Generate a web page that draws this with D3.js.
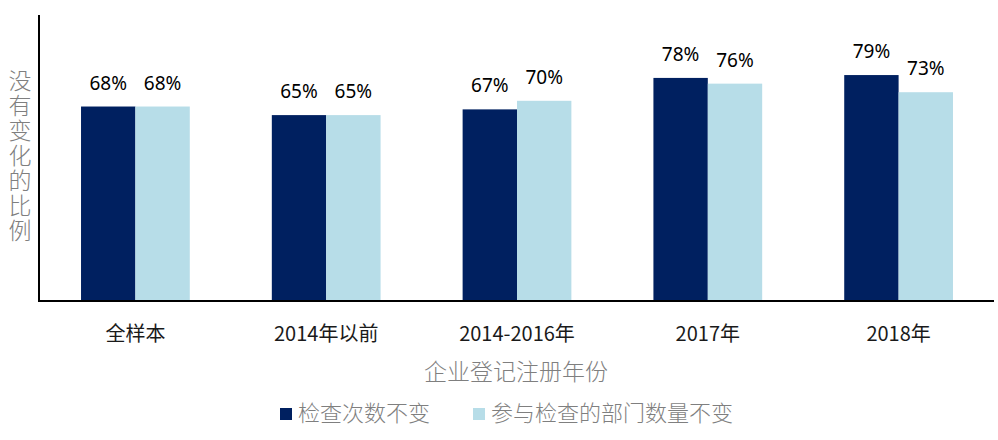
<!DOCTYPE html>
<html>
<head>
<meta charset="utf-8">
<script src="https://cdn.jsdelivr.net/npm/d3@7"></script>
<style>
  body { margin: 0; background: #fff; }
  svg text { font-family: "Noto Sans", "Noto Sans CJK SC", sans-serif; }
</style>
</head>
<body>
<svg id="chart" width="998" height="440"></svg>
<script>
// categories on the x axis
var categories = ["全样本", "2014年以前", "2014-2016年", "2017年", "2018年"];
// the two series
var series_names = ["检查次数不变", "参与检查的部门数量不变"];
var checks_unchanged = [0.68, 0.65, 0.67, 0.78, 0.79];
var depts_unchanged = [0.68, 0.65, 0.70, 0.76, 0.73];
var colours = ["#002060", "#b7dde8"];

var y_title = "没有变化的比例";
var x_title = "企业登记注册年份";

var svg = d3.select("#chart");

// flatten into rects
var data = [];
categories.forEach(function(c, i){
    data.push({cat: c, series: series_names[0], value: checks_unchanged[i]});
    data.push({cat: c, series: series_names[1], value: depts_unchanged[i]});
});

var x = d3.scaleBand()
    .domain(categories)
    .range([40, 994])
    .paddingInner(0.43)
    .paddingOuter(0.215);

var x_inner = d3.scaleBand()
    .domain(series_names)
    .range([0, x.bandwidth()]);

var y = d3.scaleLinear()
    .domain([0, 1])
    .range([301, 15]);

var colour = d3.scaleOrdinal().domain(series_names).range(colours);

// bars
svg.append("g").attr("class", "bars")
    .selectAll("rect").data(data).enter().append("rect")
    .attr("x", d => x(d.cat) + x_inner(d.series))
    .attr("y", d => y(d.value))
    .attr("width", x_inner.bandwidth())
    .attr("height", d => y(0) - y(d.value))
    .attr("fill", d => colour(d.series));

// value labels
svg.append("g").attr("class", "labels")
    .selectAll("text").data(data).enter().append("text")
    .attr("x", d => x(d.cat) + x_inner(d.series) + x_inner.bandwidth() / 2)
    .attr("y", d => y(d.value) - 17)
    .attr("text-anchor", "middle")
    .style("font-size", "19px")
    .style("fill", "#000")
    .text(d => Math.round(d.value * 100) + "%");

// axes: just the lines, no ticks
svg.append("line")
    .attr("x1", 39).attr("x2", 39)
    .attr("y1", y(1)).attr("y2", y(0) + 1)
    .attr("stroke", "#000").attr("stroke-width", 2);
svg.append("line")
    .attr("x1", 38).attr("x2", 994)
    .attr("y1", y(0)).attr("y2", y(0))
    .attr("stroke", "#000").attr("stroke-width", 2);

// category labels
svg.append("g").selectAll("text").data(categories).enter().append("text")
    .attr("x", d => x(d) + x.bandwidth() / 2)
    .attr("y", 341)
    .attr("text-anchor", "middle")
    .style("font-family", "'Noto Sans CJK SC', sans-serif")
    .style("font-size", "20px")
    .style("fill", "#1a1a1a")
    .text(d => d);

// x axis title
svg.append("text")
    .attr("x", 516).attr("y", 380)
    .attr("text-anchor", "middle")
    .style("font-family", "'Noto Sans CJK SC', sans-serif")
    .style("font-size", "23px")
    .style("font-weight", 300)
    .style("fill", "#7f7f7f")
    .text(x_title);

// y axis title, written vertically
svg.append("text")
    .attr("x", 20).attr("y", 69)
    .style("writing-mode", "vertical-rl")
    .style("text-orientation", "upright")
    .style("letter-spacing", "2px")
    .style("font-family", "'Noto Sans CJK SC', sans-serif")
    .style("font-size", "23px")
    .style("font-weight", 300)
    .style("fill", "#7f7f7f")
    .text(y_title);

// legend
var legend_x = [280, 473];
var legend = svg.append("g").selectAll("g").data(series_names).enter().append("g")
    .attr("transform", (d, i) => `translate(${legend_x[i]},0)`);
legend.append("rect")
    .attr("x", 0).attr("y", 408)
    .attr("width", 12).attr("height", 12)
    .attr("fill", d => colour(d));
legend.append("text")
    .attr("x", 18).attr("y", 421)
    .style("font-family", "'Noto Sans CJK SC', sans-serif")
    .style("font-size", "22px")
    .style("font-weight", 300)
    .style("fill", "#7f7f7f")
    .text(d => d);
</script>
</body>
</html>
